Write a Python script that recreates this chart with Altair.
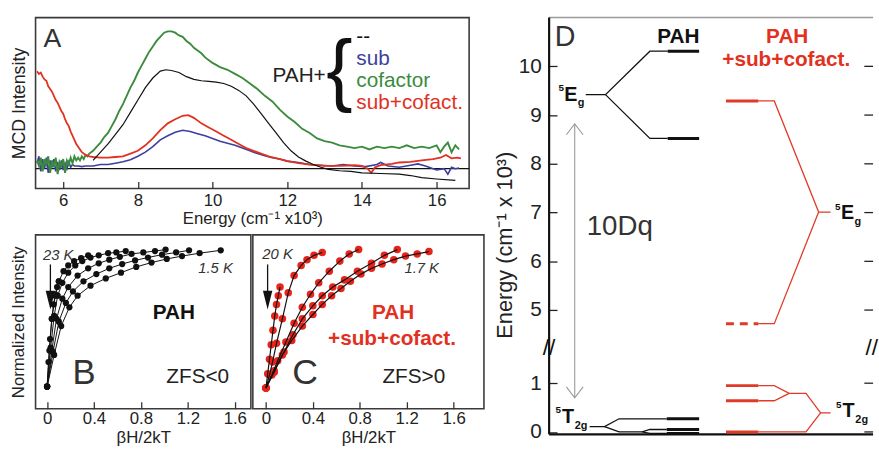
import altair as alt
import pandas as pd

FONT = "Liberation Sans"
INK = "#222222"
FRAME = "#3a3a3a"
GREEN = "#3b8b3d"
BLUE = "#3c3f9f"
RED = "#e2311f"
DRED = "#e03a28"
GRAY = "#9a9a9a"

# ---------------- Panel A: MCD spectra (energy, 10^3 cm-1 ; intensity, arb.) ----------------
A_ticks = [6, 8, 10, 12, 14, 16]
cofactor = [(5.30,0.06),(5.35,0.02),(5.40,0.08),(5.45,-0.02),(5.50,0.07),(5.55,0.03),(5.60,0.09),
            (5.65,-0.03),(5.70,0.06),(5.75,0.01),(5.80,0.08),(5.85,-0.04),(5.90,0.05),(5.95,0.02),
            (6.00,0.07),(6.05,-0.03),(6.10,0.06),(6.15,0.03),(6.20,0.08),(6.25,0.04),(6.30,0.09),
            (6.35,0.06),(6.40,0.08),(6.45,0.06),(6.50,0.09),(6.55,0.07),(6.60,0.10),(6.65,0.09),
            (6.70,0.11),(6.80,0.13),(6.90,0.16),(7.00,0.19),(7.10,0.23),(7.20,0.26),(7.30,0.31),
            (7.40,0.36),(7.50,0.42),(7.60,0.47),(7.70,0.53),(7.80,0.59),(7.90,0.64),(8.00,0.70),
            (8.10,0.75),(8.20,0.80),(8.30,0.85),(8.40,0.89),(8.50,0.93),(8.60,0.96),(8.70,0.99),
            (8.80,1.00),(8.90,1.00),(9.00,0.99),(9.10,0.97),(9.20,0.96),(9.30,0.93),(9.40,0.91),
            (9.50,0.88),(9.60,0.86),(9.70,0.84),(9.80,0.81),(9.90,0.79),(10.0,0.77),(10.2,0.74),
            (10.4,0.72),(10.6,0.69),(10.8,0.66),(11.0,0.62),(11.2,0.58),(11.4,0.53),(11.6,0.49),
            (11.8,0.43),(12.0,0.38),(12.2,0.34),(12.4,0.29),(12.6,0.26),(12.8,0.22),(13.0,0.20),
            (13.2,0.19),(13.4,0.17),(13.6,0.16),(13.8,0.15),(14.0,0.16),(14.2,0.14),(14.4,0.16),
            (14.6,0.15),(14.8,0.16),(15.0,0.15),(15.2,0.17),(15.4,0.15),(15.6,0.16),(15.8,0.15),
            (16.0,0.17),(16.1,0.12),(16.2,0.16),(16.3,0.19),(16.4,0.12),(16.5,0.17),(16.6,0.14)]
pah_alone = [(6.8,0.06),(7.0,0.12),(7.2,0.18),(7.4,0.25),(7.6,0.32),(7.8,0.41),(8.0,0.50),
             (8.2,0.59),(8.4,0.66),(8.6,0.71),(8.75,0.72),(8.9,0.715),(9.1,0.70),(9.3,0.67),
             (9.5,0.65),(9.7,0.64),(9.9,0.635),(10.1,0.63),(10.3,0.62),(10.5,0.60),(10.7,0.57),
             (10.9,0.53),(11.1,0.47),(11.3,0.40),(11.5,0.33),(11.7,0.26),(11.9,0.19),(12.1,0.13),
             (12.3,0.085),(12.5,0.055),(12.7,0.03),(12.9,0.01),(13.1,-0.005),(13.4,-0.015),
             (13.7,-0.02),(14.0,-0.03),(14.5,-0.035),(15.0,-0.04),(15.3,-0.05),(15.6,-0.065),
             (16.0,-0.075),(16.5,-0.085)]
sub = [(5.30,0.04),(5.35,0.09),(5.40,-0.02),(5.45,0.07),(5.50,0.00),(5.55,0.08),(5.60,-0.03),
       (5.65,0.06),(5.70,0.01),(5.75,0.07),(5.80,-0.02),(5.85,0.05),(5.90,-0.01),(5.95,0.06),
       (6.00,-0.01),(6.05,0.04),(6.10,0.00),(6.15,0.05),(6.20,0.01),(6.25,0.03),(6.30,0.02),
       (6.40,0.02),(6.50,0.015),(6.60,0.02),(6.80,0.02),(7.00,0.03),(7.20,0.03),(7.40,0.04),
       (7.60,0.05),(7.80,0.065),(8.00,0.09),(8.20,0.12),(8.40,0.16),(8.60,0.21),(8.80,0.24),
       (9.00,0.265),(9.20,0.28),(9.40,0.27),(9.60,0.255),(9.80,0.24),(10.0,0.22),(10.2,0.20),
       (10.4,0.185),(10.6,0.17),(10.8,0.15),(11.0,0.13),(11.2,0.11),(11.4,0.095),(11.6,0.08),
       (11.8,0.07),(12.0,0.055),(12.3,0.045),(12.6,0.03),(12.9,0.025),(13.2,0.02),(13.5,0.03),
       (13.8,0.02),(14.1,0.015),(14.4,0.03),(14.5,0.045),(14.7,0.02),(15.0,0.01),(15.3,0.025),
       (15.5,0.035),(15.7,0.02),(16.0,-0.01),(16.2,0.00),(16.3,-0.04),(16.4,0.01),(16.5,0.00),
       (16.6,0.005)]
sub_cofact = [(5.30,0.71),(5.35,0.69),(5.40,0.70),(5.45,0.67),(5.50,0.65),(5.55,0.64),(5.60,0.60),
              (5.65,0.58),(5.70,0.56),(5.75,0.53),(5.80,0.50),(5.85,0.48),(5.90,0.45),(5.95,0.42),
              (6.00,0.40),(6.05,0.36),(6.10,0.33),(6.15,0.31),(6.20,0.27),(6.25,0.24),(6.30,0.21),
              (6.35,0.18),(6.40,0.16),(6.45,0.14),(6.50,0.12),(6.60,0.10),(6.70,0.09),(6.80,0.085),
              (7.00,0.08),(7.20,0.08),(7.40,0.085),(7.60,0.09),(7.80,0.11),(8.00,0.13),(8.20,0.17),
              (8.40,0.22),(8.60,0.28),(8.80,0.33),(9.00,0.36),(9.20,0.385),(9.35,0.39),(9.50,0.37),
              (9.70,0.33),(9.90,0.30),(10.1,0.27),(10.3,0.24),(10.5,0.21),(10.7,0.18),(10.9,0.15),
              (11.1,0.13),(11.3,0.11),(11.5,0.09),(11.8,0.07),(12.0,0.055),(12.3,0.04),(12.6,0.03),
              (13.0,0.02),(13.4,0.02),(13.8,0.025),(14.0,0.02),(14.15,0.0),(14.25,-0.03),(14.35,0.01),
              (14.5,0.025),(14.8,0.035),(15.0,0.045),(15.3,0.05),(15.6,0.06),(15.9,0.07),(16.1,0.08),
              (16.25,0.10),(16.4,0.075),(16.55,0.08),(16.65,0.075)]

A_legend_items = ["--", "sub", "cofactor", "sub+cofact."]
A_legend_colors = ["#111111", BLUE, GREEN, RED]
A_legend_y = [0.957, 0.80, 0.64, 0.48]

# ---------------- Panels B and C: VTVH saturation curves ----------------
BC_ticks = [0, 0.4, 0.8, 1.2, 1.6]
B_curves = {
    "1.5 K": ([0.0, 0.06, 0.12, 0.19, 0.26, 0.37, 0.5, 0.63, 0.76, 0.89, 1.02, 1.15, 1.3, 1.48],
              [0.03, 0.25, 0.45, 0.58, 0.66, 0.73, 0.78, 0.82, 0.86, 0.89, 0.915, 0.935, 0.955, 0.975]),
    "2 K": ([0.0, 0.05, 0.1, 0.16, 0.22, 0.31, 0.42, 0.53, 0.64, 0.75, 0.86, 0.98, 1.1, 1.21],
            [0.03, 0.27, 0.48, 0.61, 0.69, 0.76, 0.81, 0.85, 0.88, 0.905, 0.925, 0.945, 0.96, 0.975]),
    "3 K": ([0.0, 0.04, 0.08, 0.13, 0.18, 0.26, 0.35, 0.44, 0.53, 0.62, 0.72, 0.82, 0.92, 1.01],
            [0.03, 0.28, 0.5, 0.64, 0.72, 0.8, 0.85, 0.885, 0.91, 0.93, 0.95, 0.96, 0.97, 0.98]),
    "5 K": ([0.0, 0.03, 0.06, 0.09, 0.13, 0.18, 0.24, 0.3, 0.37, 0.44, 0.52, 0.59, 0.67],
            [0.03, 0.3, 0.52, 0.66, 0.75, 0.82, 0.87, 0.9, 0.925, 0.94, 0.955, 0.96, 0.97]),
    "10 K": ([0.0, 0.02, 0.04, 0.07, 0.1, 0.14, 0.18, 0.23, 0.29, 0.35],
             [0.03, 0.28, 0.5, 0.66, 0.76, 0.83, 0.87, 0.9, 0.92, 0.94]),
    "23 K": ([0.0, 0.012, 0.025, 0.04, 0.055, 0.07, 0.085, 0.1],
             [0.03, 0.2, 0.36, 0.5, 0.6, 0.67, 0.72, 0.76]),
}
C_curves = {
    "1.7 K": ([0, 0.07, 0.14, 0.22, 0.31, 0.4, 0.48, 0.56, 0.64, 0.72, 0.81, 0.9, 0.99, 1.09, 1.19, 1.29, 1.39],
              [0.02, 0.13, 0.25, 0.35, 0.45, 0.53, 0.6, 0.66, 0.71, 0.76, 0.81, 0.85, 0.88, 0.91, 0.935, 0.95, 0.966]),
    "2.5 K": ([0, 0.07, 0.154, 0.23, 0.31, 0.4, 0.48, 0.57, 0.67, 0.78, 0.9, 1.01, 1.12],
              [0.02, 0.14, 0.27, 0.39, 0.5, 0.59, 0.66, 0.72, 0.77, 0.83, 0.886, 0.94, 0.98]),
    "5 K": ([0, 0.05, 0.1, 0.17, 0.24, 0.31, 0.38, 0.45, 0.54, 0.63, 0.71, 0.79],
            [0.02, 0.11, 0.21, 0.34, 0.47, 0.58, 0.67, 0.75, 0.83, 0.9, 0.95, 0.98]),
    "10 K": ([0, 0.03, 0.056, 0.09, 0.14, 0.19, 0.24, 0.3, 0.35, 0.41, 0.48],
             [0.02, 0.11, 0.2, 0.33, 0.5, 0.68, 0.8, 0.87, 0.91, 0.94, 0.96]),
    "20 K": ([0, 0.015, 0.03, 0.045, 0.06, 0.075, 0.09, 0.105, 0.12],
             [0.02, 0.12, 0.22, 0.32, 0.42, 0.52, 0.6, 0.66, 0.72]),
}

# ---------------- Panel D: energy-level diagram (energies in 10^3 cm-1) ----------------
D_tick_E = [0, 1, 5, 6, 7, 8, 9, 10]
D_black_paths = {
    "Eg_up": [(11.3, 9.42), (17.4, 9.42), (31.1, 10.31), (36.6, 10.31)],
    "Eg_dn": [(17.4, 9.42), (31.1, 8.52), (36.6, 8.52)],
    "T_up": [(12.5, 0.11), (17.1, 0.11), (21.6, 0.27), (36.3, 0.27)],
    "T_mid": [(17.1, 0.11), (21.6, 0.0), (28.7, 0.0), (31.1, 0.05), (36.3, 0.05)],
    "T_lo": [(28.7, 0.0), (31.1, -0.03), (36.3, -0.03)],
}
D_black_levels = [(36.6, 46.3, 10.31), (36.6, 46.3, 8.52), (36.3, 46.3, 0.27),
                  (36.3, 46.3, 0.05), (36.3, 46.3, -0.03)]
D_red_paths = {
    "Eg_up": [(64.6, 9.29), (69.5, 9.29), (83.2, 7.01), (86.9, 7.01)],
    "Eg_dn": [(64.6, 4.72), (69.5, 4.72), (83.2, 7.01)],
    "T_a": [(64.6, 0.95), (69.5, 0.95), (74.1, 0.79), (79.3, 0.79), (83.8, 0.39), (86.9, 0.39)],
    "T_b": [(64.6, 0.64), (69.5, 0.64), (74.1, 0.79)],
    "T_c": [(64.6, 0.0), (79.3, 0.0), (83.8, 0.39)],
}
D_red_levels = [(54.6, 64.6, 9.29), (54.6, 64.6, 0.95), (54.6, 64.6, 0.64), (54.6, 64.6, 0.0)]
D_red_dashed = [(54.6, 64.6, 4.72)]
D_states = [  # letter centre (u, E), letter, subscript
    (6.7, 9.42, "E", "g"), (5.8, 0.30, "T", "2g"),
    (92.1, 6.98, "E", "g"), (92.4, 0.42, "T", "2g"),
]
D_arrow = (7.9, 8.82, 0.70)


def pts_df(pts, **extra):
    df = pd.DataFrame(pts, columns=["x", "y"])
    for k, v in extra.items():
        df[k] = v
    return df


# ======================= Panel A =======================
xA = alt.X("x:Q", scale=alt.Scale(domain=[5.26, 16.87], nice=False, zero=False),
           axis=alt.Axis(values=A_ticks, format="d", title="Energy (cm⁻¹ x10³)", offset=-7,
                         tickSize=7, tickWidth=1.3, domain=False, labelPadding=4, titlePadding=2,
                         labelFontSize=17, titleFontSize=17))
yA = alt.Y("y:Q", scale=alt.Scale(domain=[-0.144, 1.10], nice=False, zero=False),
           axis=alt.Axis(title="MCD Intensity", labels=False, ticks=False, domain=False,
                         titlePadding=7, titleFontSize=18))

A_layers = [alt.Chart(pd.DataFrame({"y": [0.0]})).mark_rule(color="#111", strokeWidth=1.3).encode(y=yA)]
for pts, col, sw in [(sub, BLUE, 1.6), (cofactor, GREEN, 1.9), (sub_cofact, RED, 1.8), (pah_alone, "#111111", 1.2)]:
    A_layers.append(alt.Chart(pts_df(pts)).mark_line(color=col, strokeWidth=sw).encode(x=xA, y=yA))

A_layers.append(alt.Chart(pd.DataFrame({"x": [5.71], "y": [0.94], "t": ["A"]}))
                .mark_text(fontSize=27, color="#333", align="center", baseline="middle")
                .encode(x=xA, y=yA, text="t:N"))
A_layers.append(alt.Chart(pd.DataFrame({"x": [13.03], "y": [0.676], "t": ["PAH+"]}))
                .mark_text(fontSize=21, color=INK, align="right", baseline="middle")
                .encode(x=xA, y=yA, text="t:N"))
A_layers.append(alt.Chart(pd.DataFrame({"x": [13.40], "y": [0.70], "t": ["{"]}))
                .mark_text(fontSize=80, color="#111", align="center", baseline="middle")
                .encode(x=xA, y=yA, text="t:N"))
leg = pd.DataFrame({"x": [13.85] * 4, "y": A_legend_y, "t": A_legend_items})
A_layers.append(alt.Chart(leg).mark_text(fontSize=21, align="left", baseline="middle")
                .encode(x=xA, y=yA, text="t:N",
                        color=alt.Color("t:N", scale=alt.Scale(domain=A_legend_items, range=A_legend_colors),
                                        legend=None)))
A = alt.layer(*A_layers).properties(width=439, height=173)


# ======================= Panels B, C =======================
def curves_df(curves):
    rows = []
    for name, (xs, ys) in curves.items():
        for i, (xv, yv) in enumerate(zip(xs, ys)):
            rows.append({"curve": name, "x": xv, "y": yv, "i": i})
    return pd.DataFrame(rows)


def bc_axis_x(domain):
    return alt.X("x:Q", scale=alt.Scale(domain=domain, nice=False, zero=False),
                 axis=alt.Axis(values=BC_ticks, format="~g", title="βH/2kT", offset=-7, tickSize=7,
                               tickWidth=1.3, domain=False, labelPadding=2, titlePadding=3,
                               labelFontSize=17, titleFontSize=17))


yB = alt.Y("y:Q", scale=alt.Scale(domain=[-0.123, 1.082], nice=False, zero=False),
           axis=alt.Axis(title="Normalized Intensity", labels=False, ticks=False, domain=False,
                         titlePadding=8, titleFontSize=17))
yC = alt.Y("y:Q", scale=alt.Scale(domain=[-0.123, 1.082], nice=False, zero=False), axis=None)
xB = bc_axis_x([-0.0985, 1.737])
xC = bc_axis_x([-0.112, 1.859])

TRI = "M -0.5 -1 L 0.5 -1 L 0 1 Z"


def annot(x, y, t, **kw):
    return alt.Chart(pd.DataFrame({"x": [x], "y": [y], "t": [t]})).mark_text(**kw)


def bc_panel(curves, xe, ye, point_color, point_size, line_w, texts, arrow_x):
    df = curves_df(curves)
    lines = alt.Chart(df).mark_line(color="#111", strokeWidth=line_w).encode(
        x=xe, y=ye, detail="curve:N", order="i:Q")
    pts = alt.Chart(df).mark_circle(color=point_color, size=point_size, opacity=1).encode(x=xe, y=ye)
    layers = [lines, pts] if point_color == "#111111" else [pts, lines]
    arr = alt.Chart(pd.DataFrame({"x": [arrow_x], "y": [0.877], "y2": [0.66]})).mark_rule(
        color="#111", strokeWidth=1.3).encode(x=xe, y=ye, y2="y2:Q")
    head = alt.Chart(pd.DataFrame({"x": [arrow_x], "y": [0.63]})).mark_point(
        shape=TRI, filled=True, color="#111", size=361, opacity=1).encode(x=xe, y=ye)
    layers += [arr, head]
    for (x, y, t, kw) in texts:
        layers.append(annot(x, y, t, align="center", baseline="middle", **kw).encode(x=xe, y=ye, text="t:N"))
    return alt.layer(*layers)


B_texts = [
    (0.095, 0.945, "23 K", dict(fontSize=15, fontStyle="italic", color="#333")),
    (1.436, 0.849, "1.5 K", dict(fontSize=15, fontStyle="italic", color="#333")),
    (1.08, 0.541, "PAH", dict(fontSize=21, fontWeight="bold", color="#111")),
    (0.314, 0.123, "B", dict(fontSize=35, color="#333")),
    (1.284, 0.096, "ZFS<0", dict(fontSize=21, color="#222")),
]
C_texts = [
    (0.099, 0.952, "20 K", dict(fontSize=15, fontStyle="italic", color="#333")),
    (1.328, 0.849, "1.7 K", dict(fontSize=15, fontStyle="italic", color="#333")),
    (1.084, 0.541, "PAH", dict(fontSize=21, fontWeight="bold", color=RED)),
    (1.075, 0.363, "+sub+cofact.", dict(fontSize=21, fontWeight="bold", color=RED)),
    (0.334, 0.123, "C", dict(fontSize=36, color="#333")),
    (1.261, 0.096, "ZFS>0", dict(fontSize=21, color="#222")),
]
B = bc_panel(B_curves, xB, yB, "#111111", 40, 1.0, B_texts, 0.028).properties(width=218, height=176)
C = bc_panel(C_curves, xC, yC, "#e8241a", 58, 1.2, C_texts, 0.014).properties(width=234, height=176)


# ======================= Panel D =======================
def tx(f):
    return f"datum.{f} < 3 ? datum.{f} : datum.{f} - 2.5"


def to_t(e):
    return e if e < 3 else e - 2.5


xD = alt.X("u:Q", scale=alt.Scale(domain=[0, 100], nice=False, zero=False), axis=None)
yD = alt.Y("t:Q", scale=alt.Scale(domain=[-0.05, 8.5], nice=False, zero=False),
           axis=alt.Axis(values=[to_t(v) for v in D_tick_E],
                         labelExpr="datum.value < 2 ? datum.value : datum.value + 2.5",
                         title="Energy (cm⁻¹ x 10³)", offset=-8, tickSize=8, tickWidth=1.3,
                         tickColor="#222", domain=False, labelPadding=8, labelFontSize=21,
                         titleFontSize=22, titlePadding=2, titleY=230))


def paths_df(paths):
    rows = []
    for name, pts in paths.items():
        for i, (u, e) in enumerate(pts):
            rows.append({"path": name, "u": u, "E": e, "i": i})
    return pd.DataFrame(rows)


def levels_df(levels):
    return pd.DataFrame(levels, columns=["u", "u2", "E"])


D_layers = []
one = pd.DataFrame({"k": [0]})
D_layers.append(alt.Chart(one).mark_rule(color=GRAY, strokeWidth=1.5).encode(
    x=alt.value(0), x2=alt.value(328), y=alt.value(0)))
D_layers.append(alt.Chart(one).mark_rule(color="#111", strokeWidth=2.2).encode(
    x=alt.value(0), x2=alt.value(328), y=alt.value(422)))
D_layers.append(alt.Chart(one).mark_rule(color="#111", strokeWidth=2.2).encode(
    x=alt.value(0), y=alt.value(0), y2=alt.value(422)))
# right-hand inward ticks
D_layers.append(alt.Chart(pd.DataFrame({"E": D_tick_E})).transform_calculate(t=tx("E"))
                .mark_rule(color="#222", strokeWidth=1.3)
                .encode(x=alt.X(datum=97.3, scale=alt.Scale(domain=[0, 100], nice=False, zero=False), axis=None),
                        x2=alt.X2(datum=100), y=yD))
# axis break marks
D_layers.append(alt.Chart(pd.DataFrame({"u": [0, 99.6], "E": [1.72, 1.72], "s": ["//", "//"]}))
                .transform_calculate(t=tx("E"))
                .mark_text(fontSize=23, color="#111", align="center", baseline="middle")
                .encode(x=xD, y=yD, text="s:N"))
# 10Dq arrow
D_layers.append(alt.Chart(pd.DataFrame({"u": [D_arrow[0]], "E": [D_arrow[1]], "E2": [D_arrow[2]]}))
                .transform_calculate(t=tx("E"), t2=tx("E2"))
                .mark_rule(color=GRAY, strokeWidth=1.1).encode(x=xD, y=yD, y2="t2:Q"))
D_layers.append(alt.Chart(pd.DataFrame({"u": [D_arrow[0]], "E": [D_arrow[1]]})).transform_calculate(t=tx("E"))
                .mark_point(shape="M -1 1.3 L 0 0 L 1 1.3", filled=False, stroke=GRAY, strokeWidth=1.1,
                            size=289, opacity=1).encode(x=xD, y=yD))
D_layers.append(alt.Chart(pd.DataFrame({"u": [D_arrow[0]], "E": [D_arrow[2]]})).transform_calculate(t=tx("E"))
                .mark_point(shape="M -1 -1.3 L 0 0 L 1 -1.3", filled=False, stroke=GRAY, strokeWidth=1.1,
                            size=289, opacity=1).encode(x=xD, y=yD))
# level diagram lines
for paths, col in [(D_black_paths, "#111111"), (D_red_paths, DRED)]:
    D_layers.append(alt.Chart(paths_df(paths)).transform_calculate(t=tx("E"))
                    .mark_line(color=col, strokeWidth=1.3)
                    .encode(x=xD, y=yD, detail="path:N", order="i:Q"))
for levels, col, dash in [(D_black_levels, "#111111", None), (D_red_levels, DRED, None),
                          (D_red_dashed, DRED, [8, 6])]:
    kw = dict(color=col, strokeWidth=3.0)
    if dash:
        kw["strokeDash"] = dash
    D_layers.append(alt.Chart(levels_df(levels)).transform_calculate(t=tx("E"))
                    .mark_rule(**kw).encode(x=xD, x2="u2:Q", y=yD))
# state labels
st = pd.DataFrame(D_states, columns=["u", "E", "letter", "sub"])
st["sup"] = "5"
for field, kw in [("letter", dict(fontSize=20, align="center", dx=0, dy=0)),
                  ("sup", dict(fontSize=10, align="right", dx=-7, dy=-7)),
                  ("sub", dict(fontSize=11, align="left", dx=7, dy=9))]:
    D_layers.append(alt.Chart(st).transform_calculate(t=tx("E"))
                    .mark_text(fontWeight="bold", color="#111", baseline="middle", **kw)
                    .encode(x=xD, y=yD, text=f"{field}:N"))
# headings and letters
D_text = pd.DataFrame({
    "u": [4.9, 39.9, 73.5, 73.2],
    "E": [10.59, 10.61, 10.61, 10.13],
    "s": ["D", "PAH", "PAH", "+sub+cofact."],
    "c": ["#333333", "#111111", RED, RED],
})
D_layers.append(alt.Chart(D_text.iloc[[0]]).transform_calculate(t=tx("E"))
                .mark_text(fontSize=29, color="#333", align="center", baseline="middle")
                .encode(x=xD, y=yD, text="s:N"))
D_layers.append(alt.Chart(D_text.iloc[1:]).transform_calculate(t=tx("E"))
                .mark_text(fontSize=21, fontWeight="bold", align="center", baseline="middle")
                .encode(x=xD, y=yD, text="s:N", color=alt.Color("c:N", scale=None)))
D_layers.append(alt.Chart(pd.DataFrame({"u": [11.6], "E": [6.55], "s": ["10Dq"]})).transform_calculate(t=tx("E"))
                .mark_text(fontSize=28, color="#333", align="left", baseline="alphabetic")
                .encode(x=xD, y=yD, text="s:N"))

D = alt.layer(*D_layers).properties(width=328, height=422,
                                    view=alt.ViewBackground(stroke="transparent"))

BC = alt.hconcat(B, C, spacing=0)
left = alt.vconcat(A, BC, spacing=7)
chart = (alt.hconcat(left, D, spacing=7)
         .properties(padding={"left": 9, "top": 13, "right": 0, "bottom": 0}, background="white")
         .configure(font=FONT)
         .configure_view(stroke=FRAME, strokeWidth=1.6)
         .configure_axis(labelColor=INK, titleColor=INK, labelFont=FONT, titleFont=FONT,
                         titleFontWeight="normal", grid=False, tickColor="#333")
         .configure_text(font=FONT))

chart.save("out.html", embed_options={"renderer": "svg", "actions": False})
